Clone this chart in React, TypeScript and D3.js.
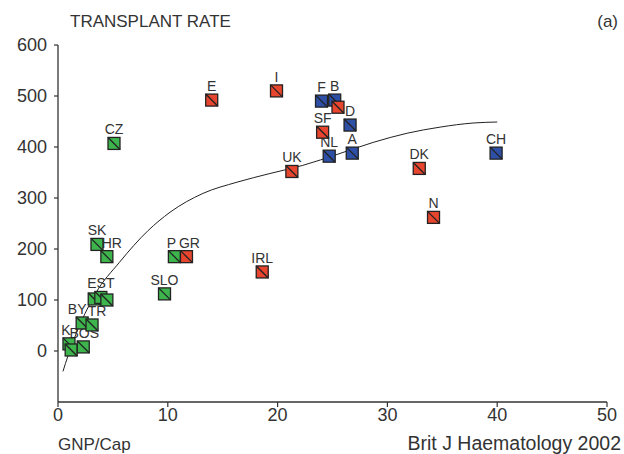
import React, { useEffect, useRef } from 'react';
import { select, scaleLinear, line, curveMonotoneX } from 'd3';

// countries: GNP per capita (x) vs transplant rate (y)
const countries = ['E', 'I', 'F', 'B', '', 'D', 'SF', 'NL', 'A', 'UK', 'DK', 'N', 'CH',
    'CZ', 'SK', 'HR', 'P', 'GR', 'SLO', 'IRL', '', 'EST', '', 'BY', 'TR', 'K', '', 'BOS'];
const gnp = [14.0, 19.9, 24.0, 25.2, 25.5, 26.6, 24.1, 24.7, 26.8, 21.3, 32.9, 34.2, 39.9,
    5.1, 3.55, 4.45, 10.6, 11.7, 9.7, 18.6, 3.3, 3.9, 4.45, 2.2, 3.1, 1.0, 1.2, 2.3];
const rate = [492, 510, 490, 492, 478, 443, 429, 382, 388, 352, 358, 262, 388,
    407, 209, 185, 185, 185, 112, 155, 102, 105, 100, 55, 51, 14, 2, 8];
const region = ['r', 'r', 'b', 'b', 'r', 'b', 'r', 'b', 'b', 'r', 'r', 'r', 'b',
    'g', 'g', 'g', 'g', 'r', 'g', 'r', 'g', 'g', 'g', 'g', 'g', 'g', 'g', 'g'];

// fitted trend line
const fitX = [0.45, 0.9, 3.4, 5.6, 8.2, 10.2, 13.2, 16.3, 19.3, 22.3, 25.5, 28.7, 31.8, 34.8, 37.8, 40];
const fitY = [-40, -10, 112, 174, 236, 272, 309, 331, 348, 364, 386, 409, 427, 439, 447, 449];

const xTicks = [0, 10, 20, 30, 40, 50];
const yTicks = [0, 100, 200, 300, 400, 500, 600];

const colors = { r: '#e8452e', b: '#2e4fa6', g: '#3db54c' };
// small nudges so crowded labels sit like the original
const labelDx = { HR: 5, P: -3, GR: 3, BY: -5, TR: 5, K: -3, BOS: 1 };

export default function App() {
    const ref = useRef(null);
    const width = 624;
    const height = 454;
    const font = '"Liberation Sans", Arial, sans-serif';

    useEffect(() => {
        const svg = select(ref.current);
        svg.selectAll('*').remove();

        const x = scaleLinear().domain([0, 50]).range([58, 607]);
        const y = scaleLinear().domain([-100, 600]).range([402, 45]);

        // axes
        svg.append('line')
            .attr('x1', x(0)).attr('x2', x(0)).attr('y1', y(600)).attr('y2', y(-100))
            .attr('stroke', '#333').attr('stroke-width', 1.3);
        svg.append('line')
            .attr('x1', x(0)).attr('x2', x(50)).attr('y1', y(-100)).attr('y2', y(-100))
            .attr('stroke', '#333').attr('stroke-width', 1.3);

        svg.selectAll('.ytick').data(yTicks).join('line')
            .attr('class', 'ytick')
            .attr('x1', x(0) - 4).attr('x2', x(0))
            .attr('y1', d => y(d)).attr('y2', d => y(d))
            .attr('stroke', '#333').attr('stroke-width', 1.2);
        svg.selectAll('.ylab').data(yTicks).join('text')
            .attr('class', 'ylab')
            .attr('x', x(0) - 11).attr('y', d => y(d) + 6)
            .attr('text-anchor', 'end')
            .attr('font-size', 18).attr('font-family', font).attr('fill', '#333')
            .text(d => d);

        svg.selectAll('.xtick').data(xTicks).join('line')
            .attr('class', 'xtick')
            .attr('x1', d => x(d)).attr('x2', d => x(d))
            .attr('y1', y(-100)).attr('y2', y(-100) + 5)
            .attr('stroke', '#333').attr('stroke-width', 1.2);
        svg.selectAll('.xlab').data(xTicks).join('text')
            .attr('class', 'xlab')
            .attr('x', d => x(d)).attr('y', 421)
            .attr('text-anchor', 'middle')
            .attr('font-size', 18).attr('font-family', font).attr('fill', '#333')
            .text(d => d);

        // titles
        const addText = (tx, ty, str, anchor, size) => svg.append('text')
            .attr('x', tx).attr('y', ty).attr('text-anchor', anchor)
            .attr('font-size', size).attr('font-family', font).attr('fill', '#333')
            .text(str);
        addText(70, 27, 'TRANSPLANT RATE', 'start', 17);
        addText(618, 27, '(a)', 'end', 17);
        addText(58, 450, 'GNP/Cap', 'start', 17);
        addText(621, 450, 'Brit J Haematology 2002', 'end', 19.5);

        // trend curve
        const fit = fitX.map((v, i) => [v, fitY[i]]);
        svg.append('path')
            .datum(fit)
            .attr('fill', 'none')
            .attr('stroke', '#222')
            .attr('stroke-width', 1)
            .attr('d', line().x(d => x(d[0])).y(d => y(d[1])).curve(curveMonotoneX));

        const pts = countries.map((c, i) => ({ c, gx: gnp[i], r: rate[i], reg: region[i] }));

        // labels sit under the markers
        svg.selectAll('.lab').data(pts.filter(d => d.c)).join('text')
            .attr('class', 'lab')
            .attr('x', d => x(d.gx) + (labelDx[d.c] || 0)).attr('y', d => y(d.r) - 9)
            .attr('text-anchor', 'middle')
            .attr('font-size', 14).attr('font-family', font).attr('fill', '#333')
            .text(d => d.c);

        const s = 6;
        const g = svg.selectAll('.mk').data(pts).join('g').attr('class', 'mk');
        g.append('rect')
            .attr('x', d => x(d.gx) - s).attr('y', d => y(d.r) - s)
            .attr('width', s * 2).attr('height', s * 2)
            .attr('fill', d => colors[d.reg])
            .attr('stroke', '#222').attr('stroke-width', 1.3);
        g.append('line')
            .attr('x1', d => x(d.gx) - s).attr('y1', d => y(d.r) - s)
            .attr('x2', d => x(d.gx) + s).attr('y2', d => y(d.r) + s)
            .attr('stroke', '#222').attr('stroke-width', 1.3);
    }, []);

    return (
        <svg ref={ref} width={width} height={height}
            style={{ position: 'absolute', left: 0, top: 0, background: '#fff' }} />
    );
}
